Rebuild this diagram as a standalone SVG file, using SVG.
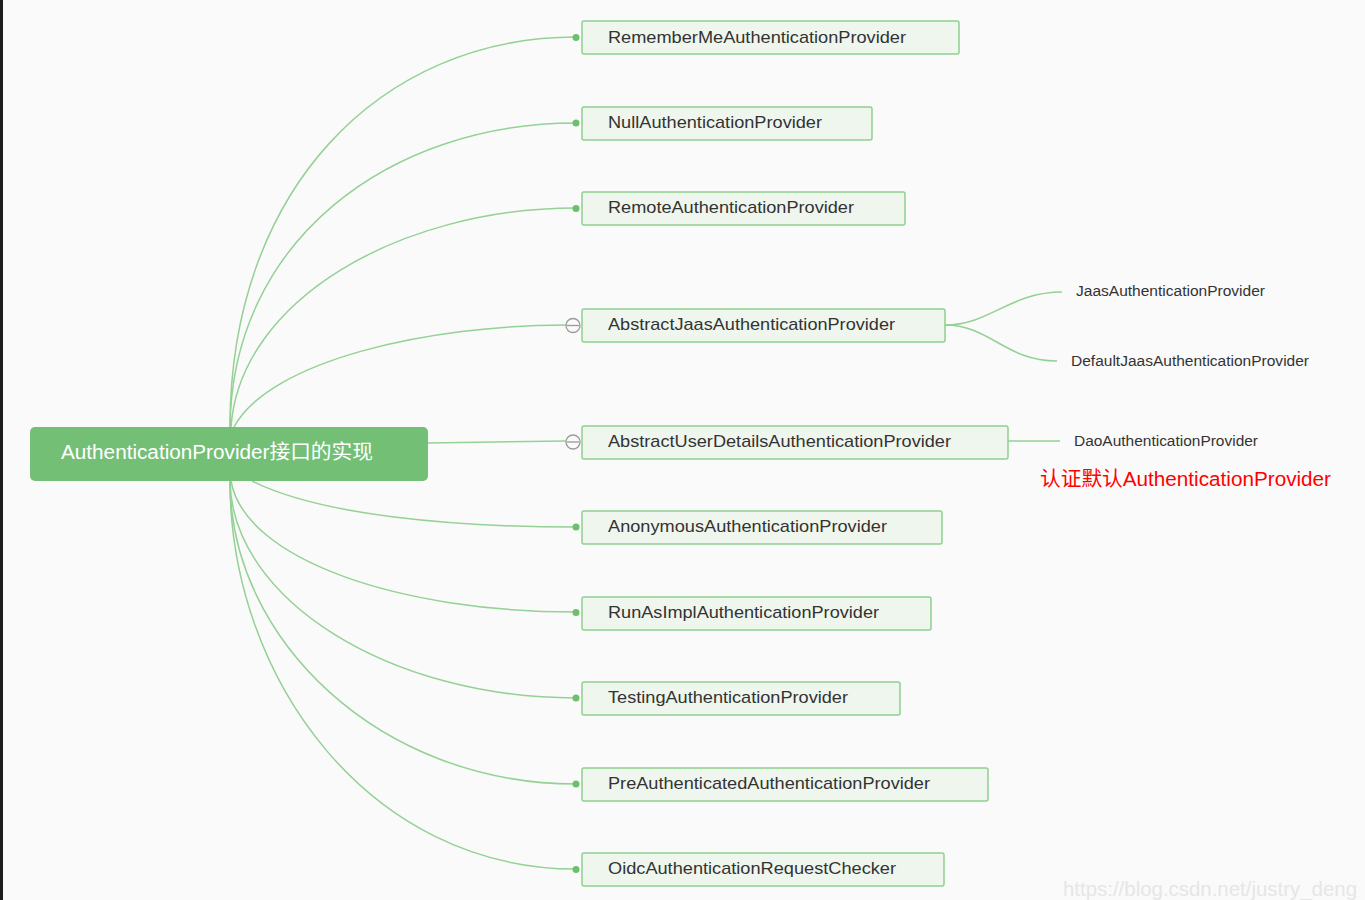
<svg xmlns="http://www.w3.org/2000/svg" width="1365" height="900" viewBox="0 0 1365 900">
<style>
.bg{fill:#fafafa}
.edge{fill:none;stroke:#94d194;stroke-width:1.5}
.dot{fill:#6cc06c}
.tog{fill:#fafafa;stroke:#9a9a9a;stroke-width:1.3}
.box{fill:#eff6ed;stroke:#8fd08f;stroke-width:1.5}
.t{font-family:"Liberation Sans",Arial,sans-serif;font-size:17px;fill:#333}
.s{font-family:"Liberation Sans",Arial,sans-serif;font-size:14px;fill:#333}
.root{fill:#74bf76}
.rt{font-family:"Liberation Sans","Noto Sans CJK SC",sans-serif;font-size:20px;fill:#fff}
.red{font-family:"Liberation Sans","Noto Sans CJK SC",sans-serif;font-size:20px;fill:#f00}
.wm{font-family:"Liberation Sans",Arial,sans-serif;font-size:20px;fill:#e6e6e6}
</style>
<rect class="bg" x="0" y="0" width="1365" height="900"/>
<rect x="0" y="0" width="3" height="900" fill="#1c1c1c"/>
<g id="connectors">
<path class="edge" d="M230,427 C230,190 380,37 576,37"/>
<path class="edge" d="M230,427 C232,240 390,123 576,123"/>
<path class="edge" d="M231,427 C240,300 400,208 576,208"/>
<path class="edge" d="M234,427 C270,360 430,325 566,325"/>
<path class="edge" d="M428,443 L566,441"/>
<path class="edge" d="M252,481 C320,515 450,527 576,527"/>
<path class="edge" d="M231,481 C245,560 400,612 576,612"/>
<path class="edge" d="M230,481 C232,600 390,698 576,698"/>
<path class="edge" d="M230,481 C230,640 380,784 576,784"/>
<path class="edge" d="M230,481 C230,680 370,869 576,869"/>
<path class="edge" d="M945,325 C990,325 1010,292 1062,292"/>
<path class="edge" d="M945,325 C990,325 1005,361 1057,361"/>
<path class="edge" d="M1008,441 L1060,441"/>
<circle class="dot" cx="576" cy="37.5" r="3.5"/>
<circle class="dot" cx="576" cy="123" r="3.5"/>
<circle class="dot" cx="576" cy="208.5" r="3.5"/>
<circle class="dot" cx="576" cy="527" r="3.5"/>
<circle class="dot" cx="576" cy="612.5" r="3.5"/>
<circle class="dot" cx="576" cy="698" r="3.5"/>
<circle class="dot" cx="576" cy="784" r="3.5"/>
<circle class="dot" cx="576" cy="869.5" r="3.5"/>
<circle class="tog" cx="573" cy="325.5" r="7"/>
<line x1="567" y1="325.5" x2="579" y2="325.5" stroke="#9a9a9a" stroke-width="1.3"/>
<circle class="tog" cx="573" cy="442" r="7"/>
<line x1="567" y1="442" x2="579" y2="442" stroke="#9a9a9a" stroke-width="1.3"/>
</g>
<g id="root">
<rect class="root" x="30" y="427" width="398" height="54" rx="5"/>
<text class="rt" x="61" y="459" textLength="312" lengthAdjust="spacingAndGlyphs">AuthenticationProvider接口的实现</text>
</g>
<g id="n1"><rect class="box" x="582" y="21" width="377" height="33" rx="2"/><text class="t" x="608" y="43" textLength="298" lengthAdjust="spacingAndGlyphs">RememberMeAuthenticationProvider</text></g>
<g id="n2"><rect class="box" x="582" y="107" width="290" height="33" rx="2"/><text class="t" x="608" y="128" textLength="214" lengthAdjust="spacingAndGlyphs">NullAuthenticationProvider</text></g>
<g id="n3"><rect class="box" x="582" y="192" width="323" height="33" rx="2"/><text class="t" x="608" y="213" textLength="246" lengthAdjust="spacingAndGlyphs">RemoteAuthenticationProvider</text></g>
<g id="n4"><rect class="box" x="582" y="309" width="363" height="33" rx="2"/><text class="t" x="608" y="330" textLength="287" lengthAdjust="spacingAndGlyphs">AbstractJaasAuthenticationProvider</text></g>
<g id="n5"><rect class="box" x="582" y="426" width="426" height="33" rx="2"/><text class="t" x="608" y="447" textLength="343" lengthAdjust="spacingAndGlyphs">AbstractUserDetailsAuthenticationProvider</text></g>
<g id="n6"><rect class="box" x="582" y="511" width="360" height="33" rx="2"/><text class="t" x="608" y="532" textLength="279" lengthAdjust="spacingAndGlyphs">AnonymousAuthenticationProvider</text></g>
<g id="n7"><rect class="box" x="582" y="597" width="349" height="33" rx="2"/><text class="t" x="608" y="618" textLength="271" lengthAdjust="spacingAndGlyphs">RunAsImplAuthenticationProvider</text></g>
<g id="n8"><rect class="box" x="582" y="682" width="318" height="33" rx="2"/><text class="t" x="608" y="703" textLength="240" lengthAdjust="spacingAndGlyphs">TestingAuthenticationProvider</text></g>
<g id="n9"><rect class="box" x="582" y="768" width="406" height="33" rx="2"/><text class="t" x="608" y="789" textLength="322" lengthAdjust="spacingAndGlyphs">PreAuthenticatedAuthenticationProvider</text></g>
<g id="n10"><rect class="box" x="582" y="853" width="362" height="33" rx="2"/><text class="t" x="608" y="874" textLength="288" lengthAdjust="spacingAndGlyphs">OidcAuthenticationRequestChecker</text></g>
<g id="n11"><text class="s" x="1076" y="296" textLength="189" lengthAdjust="spacingAndGlyphs">JaasAuthenticationProvider</text></g>
<g id="n12"><text class="s" x="1071" y="366" textLength="238" lengthAdjust="spacingAndGlyphs">DefaultJaasAuthenticationProvider</text></g>
<g id="n13"><text class="s" x="1074" y="446" textLength="184" lengthAdjust="spacingAndGlyphs">DaoAuthenticationProvider</text></g>
<text class="red" x="1040" y="486" textLength="291" lengthAdjust="spacingAndGlyphs">认证默认AuthenticationProvider</text>
<text class="wm" x="1063" y="896" textLength="294" lengthAdjust="spacingAndGlyphs">https://blog.csdn.net/justry_deng</text>
</svg>
